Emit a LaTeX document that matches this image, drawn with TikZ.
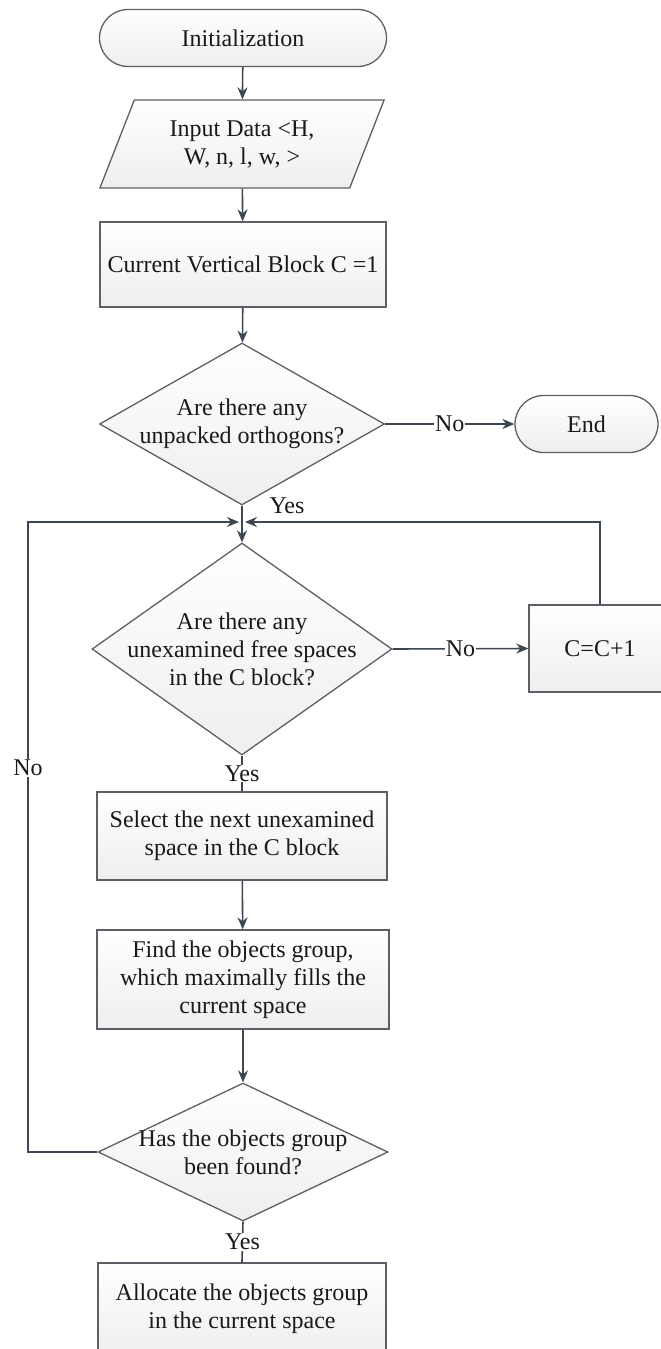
\documentclass[tikz,border=0pt]{standalone}
\usepackage{fontspec}
\setmainfont{Liberation Serif}
\usetikzlibrary{shapes.geometric,shapes.misc,arrows.meta}
\definecolor{linegray}{HTML}{3E4751}
\definecolor{boxgray}{HTML}{5C6066}
\begin{document}
\begin{tikzpicture}[x=1pt,y=-1pt,
	every node/.style={font=\fontsize{24}{28}\selectfont,text=black!90},
	shapebox/.style={draw=boxgray,line width=1.3pt,top color=white,bottom color=gray!13,inner sep=0pt,align=center},
	procbox/.style={shapebox,rectangle,minimum width=#1},
	termbox/.style={shapebox,rounded rectangle,minimum width=#1,minimum height=57pt},
	decision/.style={shapebox,diamond},
	conn/.style={draw=linegray,line width=1.6pt,-{Stealth[length=12pt,width=10pt]}},
	plainconn/.style={draw=linegray,line width=1.6pt},
	lab/.style={fill=white,inner sep=1pt}]
\useasboundingbox (0,0) rectangle (661,1349);
\clip (0,0) rectangle (661,1349);
%main column
\node[termbox=287pt] (init) at (243,38) {Initialization};
\node[shapebox,trapezium,trapezium left angle=64,trapezium right angle=116,trapezium stretches=true,minimum width=285pt,minimum height=88pt] (input) at (242,144) {Input Data <H,\\W, n, l, w, >};
\node[procbox=286pt,minimum height=85pt] (cur) at (243,264.5) {Current Vertical Block C =1};
\node[decision,minimum width=285pt,minimum height=162pt] (q1) at (242,424) {};
\node[align=center] at (q1) {Are there any\\unpacked orthogons?};
\node[termbox=143pt] (endt) at (586.5,424) {End};
\coordinate (junc) at (242,522);
\node[decision,minimum width=300pt,minimum height=212pt] (q2) at (242,649) {};
\node[align=center] at (q2) {Are there any\\unexamined free spaces\\in the C block?};
\node[procbox=142pt,minimum height=87pt] (inc) at (600,648.5) {C=C+1};
\node[procbox=290pt,minimum height=88pt] (sel) at (242,836) {Select the next unexamined\\space in the C block};
\node[procbox=292pt,minimum height=99pt] (find) at (243,979.5) {Find the objects group,\\which maximally fills the\\current space};
\node[decision,minimum width=290pt,minimum height=138pt] (q3) at (243,1152) {};
\node[align=center] at (q3) {Has the objects group\\been found?};
\node[procbox=288pt,minimum height=92pt] (alloc) at (242,1309) {Allocate the objects group\\in the current space};
\coordinate (lcorner) at (28,1152);
\coordinate (ltop) at (28,522);
%connectors
\draw[conn] (init) -- (input);
\draw[conn] (input) -- (cur);
\draw[conn] (cur) -- (q1);
\draw[conn] (q1.east) -- node[lab]{No} (endt.west);
\draw[conn] (q1.south) -- (q2.north);
\node[anchor=west] (yes1) at (266,506) {Yes};
\draw[conn] (q2.east) -- node[lab]{No} (inc.west);
\draw[conn] (inc.north) |- ([xshift=3pt]junc);
\draw[plainconn] (q2.south) -- node[lab]{Yes} (sel.north);
\draw[conn] (sel) -- (find);
\draw[conn] (find) -- (q3);
\draw[conn] (q3.west) -- (lcorner) -- node[lab,pos=0.61]{No} (ltop) -- ([xshift=-3pt]junc);
\draw[plainconn] (q3.south) -- node[lab]{Yes} (alloc.north);
\end{tikzpicture}
\end{document}
